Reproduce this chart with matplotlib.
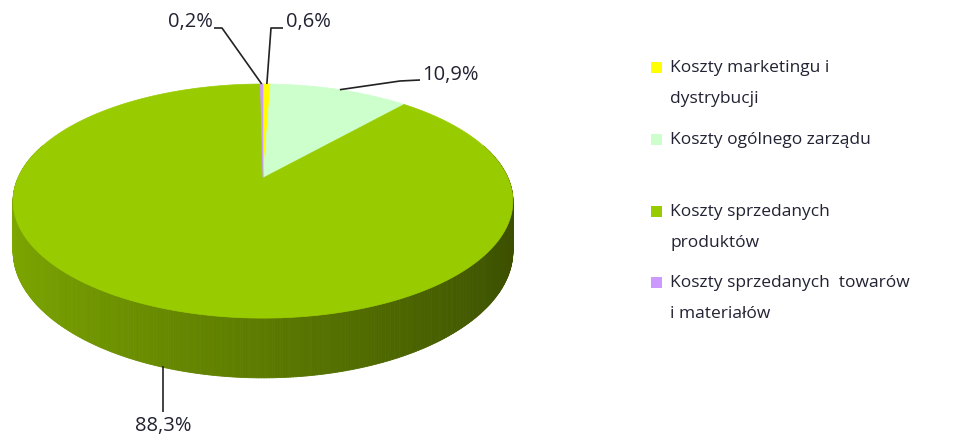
import numpy as np
import matplotlib.pyplot as plt
from matplotlib.patches import Polygon, Rectangle
from matplotlib.collections import PolyCollection
from matplotlib.colors import to_rgb

# ==============================
# data
# ==============================
categories = ["Koszty marketingu i\ndystrybucji",
              "Koszty ogólnego zarządu",
              "Koszty sprzedanych\nproduktów",
              "Koszty sprzedanych  towarów\ni materiałów"]
shares = [0.6, 10.9, 88.3, 0.2]
share_labels = ["0,6%", "10,9%", "88,3%", "0,2%"]
colors = ["#FFFF00", "#CCFFCC", "#99CC00", "#CC99FF"]

# ==============================
# pie geometry (pixel space, perspective 3D pie like Excel)
# ==============================
cx, cy = 263, 178
A, B = 245, 112.5
p = 0.197
H = 48
font = "Open Sans"
txt_color = "#222233"


def proj(theta, h=0.0, r=1.0):
    u = r * np.sin(theta)
    v = r * np.cos(theta)
    s = 1.0 / (1.0 + p * v)
    return cx + A * u * s, cy - B * v * s + h * s


fig = plt.figure(figsize=(9.57, 4.36), dpi=100)
ax = fig.add_axes([0, 0, 1, 1])
ax.set_xlim(0, 957)
ax.set_ylim(436, 0)
ax.axis("off")

fr = np.array(shares) / np.sum(shares)
edges = np.concatenate([[0], np.cumsum(fr)]) * 2 * np.pi

# side walls
polys, fcols = [], []
for i in range(len(shares)):
    t = np.linspace(edges[i], edges[i + 1], max(3, int(fr[i] * 720)))
    base = np.array(to_rgb(colors[i]))
    for a, b in zip(t[:-1], t[1:]):
        if np.cos((a + b) / 2) > 0.3:
            continue
        x1, y1 = proj(a)
        x2, y2 = proj(b)
        x3, y3 = proj(b, H)
        x4, y4 = proj(a, H)
        polys.append([(x1, y1), (x2, y2), (x3, y3), (x4, y4)])
        u = np.sin((a + b) / 2)
        f = 0.60 - 0.22 * u
        fcols.append(np.clip(base * f, 0, 1))
ax.add_collection(PolyCollection(polys, facecolors=fcols, edgecolors=fcols, linewidths=0.6))

# top faces
for i in range(len(shares)):
    t = np.linspace(edges[i], edges[i + 1], max(3, int(fr[i] * 720)))
    pts = [(cx, cy)] + [proj(a) for a in t]
    ax.add_patch(Polygon(pts, closed=True, facecolor=colors[i], edgecolor=colors[i], linewidth=0.5))

# data labels with leader lines
mids = (edges[:-1] + edges[1:]) / 2
label_layout = [
    # (elbow, line end, text pos, ha)
    ((271, 28), (283, 28), (286, 22), "left"),
    ((400, 81), (420, 80), (422, 75), "left"),
    (None, (163, 412), (163, 426), "center"),
    ((222, 28), (214, 28), (213, 22), "right"),
]
for i, (elbow, end, tpos, ha) in enumerate(label_layout):
    h = H if np.cos(mids[i]) < 0 else 0
    ax_, ay_ = proj(mids[i], h)
    if elbow is None:
        xs, ys = [end[0], end[0]], [ay_, end[1]]
    else:
        xs, ys = [ax_, elbow[0], end[0]], [ay_, elbow[1], end[1]]
    ax.plot(xs, ys, color="#222222", lw=1.2, solid_capstyle="butt")
    ax.text(tpos[0], tpos[1], share_labels[i], ha=ha, va="center",
            fontsize=14.5, family=font, color=txt_color)

# legend
leg_y = [68, 140, 212, 283]
for i, lab in enumerate(categories):
    ax.add_patch(Rectangle((651, leg_y[i] - 6), 11, 11, facecolor=colors[i], edgecolor="none"))
    for k, line in enumerate(lab.split("\n")):
        ax.text(670, leg_y[i] + 31 * k, line, ha="left", va="center", fontsize=12.5,
                family=font, color=txt_color)

fig.savefig("out.png", dpi=100)
